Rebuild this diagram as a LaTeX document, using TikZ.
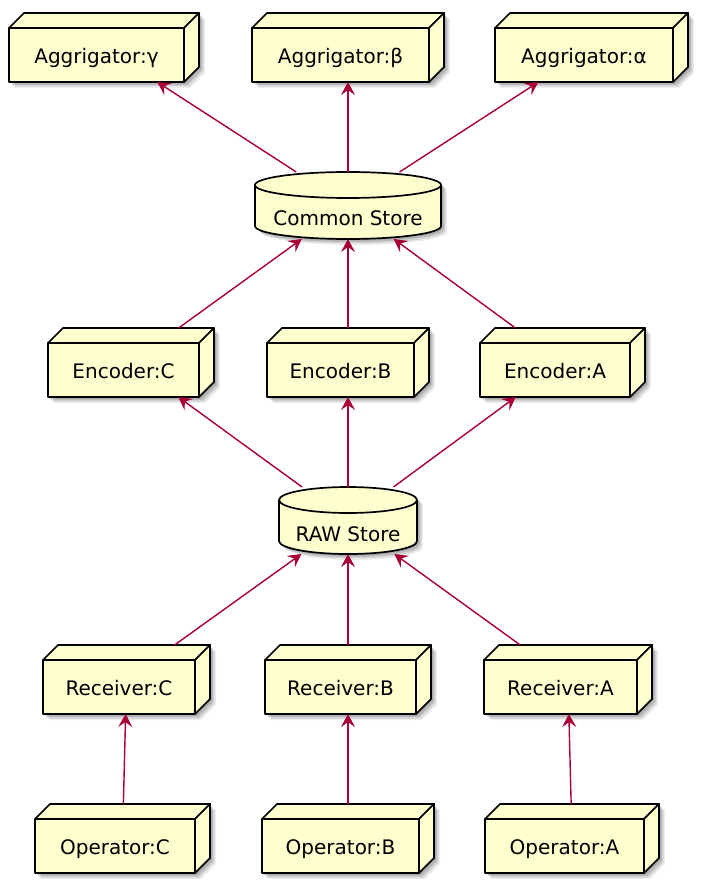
\documentclass[tikz,border=0pt]{standalone}
\usepackage{fontspec}
\setmainfont{DejaVu Sans}
\usetikzlibrary{arrows.meta,calc}
\definecolor{nodefill}{HTML}{FEFECE}
\definecolor{arrowc}{HTML}{A80036}
\tikzset{
  fullbox/.style={draw=none, inner sep=0pt, outer sep=0pt, rectangle},
  face/.style={draw=black, fill=nodefill, line width=1.7pt, line join=round},
  lbl/.style={inner sep=0pt, anchor=base, font=\fontsize{20}{24}\selectfont},
  conn/.style={draw=arrowc, line width=1.4pt, -{Stealth[length=13pt,width=14pt,inset=5pt]}},
}
% 3D node box: name, x, y (front top), width (front), text
\newcommand\ubox[5]{%
  \pgfmathsetmacro\bx{#2}\pgfmathsetmacro\by{#3}%
  \pgfmathsetmacro\bxr{#2+#4}\pgfmathsetmacro\byb{#3+54}%
  \pgfmathsetmacro\bxb{#2+#4+15}\pgfmathsetmacro\byt{#3-15}\pgfmathsetmacro\bybb{#3+39}%
  \node[fullbox, minimum width={#4pt+15pt}, minimum height=69pt] (#1) at ({(\bx+\bxb)/2},{(\byt+\byb)/2}) {};
  \foreach \s/\o in {6/0.07,4.5/0.10,3/0.12,1.5/0.12}{%
    \fill[black, opacity=\o, shift={(\s pt,-\s pt)}] (\bx,\by) -- ({\bx+15},\byt) -- (\bxb,\byt) -- (\bxb,\bybb) -- (\bxr,\byb) -- (\bx,\byb) -- cycle;
  }
  \filldraw[face] (\bx,\by) rectangle (\bxr,\byb);
  \filldraw[face] (\bx,\by) -- ({\bx+15},\byt) -- (\bxb,\byt) -- (\bxr,\by) -- cycle;
  \filldraw[face] (\bxr,\by) -- (\bxb,\byt) -- (\bxb,\bybb) -- (\bxr,\byb) -- cycle;
  \node[lbl] (#1l) at ({(\bx+\bxr)/2},{\by+35.5}) {#5};
}
% database cylinder: name, x, y (top), width, text
\newcommand\ucyl[5]{%
  \pgfmathsetmacro\cx{#2}\pgfmathsetmacro\cxr{#2+#4}\pgfmathsetmacro\cxc{#2+#4/2}%
  \pgfmathsetmacro\kx{0.5523*#4/2}\pgfmathsetmacro\ky{0.5523*13}%
  \pgfmathsetmacro\ct{#3}\pgfmathsetmacro\ca{#3+13}\pgfmathsetmacro\cb{#3+54}%
  \pgfmathsetmacro\cbb{#3+67}\pgfmathsetmacro\cam{#3+26}%
  \node[fullbox, minimum width={#4pt}, minimum height=67pt] (#1) at (\cxc,{#3+33.5}) {};
  \def\cylbody{(\cx,\ca) -- (\cx,\cb) .. controls (\cx,{\cb+\ky}) and ({\cxc-\kx},\cbb) .. (\cxc,\cbb)
      .. controls ({\cxc+\kx},\cbb) and (\cxr,{\cb+\ky}) .. (\cxr,\cb) -- (\cxr,\ca)
      .. controls (\cxr,{\ca-\ky}) and ({\cxc+\kx},\ct) .. (\cxc,\ct)
      .. controls ({\cxc-\kx},\ct) and (\cx,{\ca-\ky}) .. (\cx,\ca) -- cycle}%
  \foreach \s/\o in {6/0.07,4.5/0.10,3/0.12,1.5/0.12}{%
    \fill[black, opacity=\o, shift={(\s pt,-\s pt)}] \cylbody;
  }
  \filldraw[face] \cylbody;
  \draw[face, fill=none] (\cx,\ca) .. controls (\cx,{\ca+\ky}) and ({\cxc-\kx},\cam) .. (\cxc,\cam)
      .. controls ({\cxc+\kx},\cam) and (\cxr,{\ca+\ky}) .. (\cxr,\ca);
  \node[lbl] (#1l) at (\cxc,{#3+54}) {#5};
}
\begin{document}
\begin{tikzpicture}[x=1pt,y=-1pt]
\useasboundingbox (0,0) rectangle (720,890);
\fill[white] (0,0) rectangle (720,890);
% row 1
\ubox{ag}{9}{28}{175}{Aggrigator:γ}
\ubox{ab}{252}{28}{177}{Aggrigator:β}
\ubox{aa}{495}{28}{178}{Aggrigator:α}
% common store
\ucyl{cs}{255}{172}{186}{Common Store}
% encoders
\ubox{ec}{48}{343}{151}{Encoder:C}
\ubox{eb}{267}{343}{147}{Encoder:B}
\ubox{ea}{480}{343}{150}{Encoder:A}
% raw store
\ucyl{raw}{279}{487}{138}{RAW Store}
% receivers
\ubox{rc}{43}{660}{152}{Receiver:C}
\ubox{rb}{265}{660}{151}{Receiver:B}
\ubox{ra}{484}{660}{153}{Receiver:A}
% operators
\ubox{oc}{35}{819}{160}{Operator:C}
\ubox{ob}{262}{819}{157}{Operator:B}
\ubox{oa}{485}{819}{159}{Operator:A}
% connectors
\draw[conn] (oc) -- (rc);
\draw[conn] (ob) -- (rb);
\draw[conn] (oa) -- (ra);
\draw[conn] (rc) -- (raw);
\draw[conn] (rb) -- (raw);
\draw[conn] (ra) -- (raw);
\draw[conn] (raw) -- (ec);
\draw[conn] (raw) -- (eb);
\draw[conn] (raw) -- (ea);
\draw[conn] (ec) -- (cs);
\draw[conn] (eb) -- (cs);
\draw[conn] (ea) -- (cs);
\draw[conn] (cs) -- (ag);
\draw[conn] (cs) -- (ab);
\draw[conn] (cs) -- (aa);
\end{tikzpicture}
\end{document}
